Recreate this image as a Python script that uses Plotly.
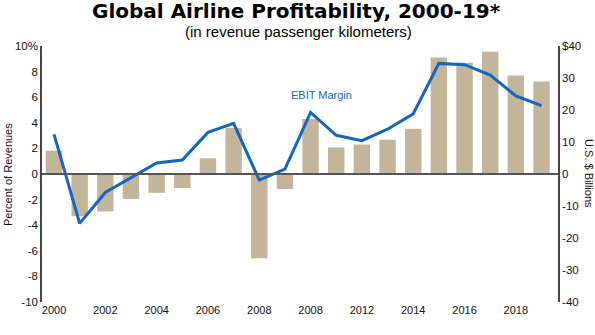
import plotly.graph_objects as go

years = list(range(2000, 2020))
# Net profit, US$ billions (right axis)
profit_bn = [7.3, -13.2, -11.7, -7.8, -5.9, -4.4, 4.9, 14.4, -26.3, -4.7,
             17.2, 8.3, 9.2, 10.7, 14.1, 36.4, 34.8, 38.2, 30.8, 28.9]
# EBIT margin, percent of revenues (left axis)
ebit_margin = [3.1, -3.86, -1.44, -0.3, 0.86, 1.09, 3.25, 3.95, -0.47, 0.39,
               4.81, 3.02, 2.6, 3.5, 4.7, 8.64, 8.54, 7.73, 6.1, 5.34]

x_tickvals = [2000, 2002, 2004, 2006, 2008, 2010, 2012, 2014, 2016, 2018]
x_ticktext = ["2000", "2002", "2004", "2006", "2008", "2008", "2012", "2014", "2016", "2018"]
left_tickvals = [10, 8, 6, 4, 2, 0, -2, -4, -6, -8, -10]
left_ticktext = ["10%", "8", "6", "4", "2", "0", "-2", "-4", "-6", "-8", "-10"]
right_tickvals = [40, 30, 20, 10, 0, -10, -20, -30, -40]
right_ticktext = ["$40", "30", "20", "10", "0", "-10", "-20", "-30", "-40"]

BAR = "#c3b59a"
LINE = "#1464c0"
AXIS = "#444444"
FONT = "Liberation Sans, Arial, sans-serif"

fig = go.Figure()
# Bars on the base (right-hand, dollars) axis; the margin line sits on the
# overlaying percent axis so it is drawn above the bars.
fig.add_trace(go.Bar(x=years, y=profit_bn, yaxis="y", marker_color=BAR,
                     marker_line_width=0, width=0.64, name="Net profit"))
fig.add_trace(go.Scatter(x=years, y=ebit_margin, yaxis="y2", mode="lines",
                         line=dict(color=LINE, width=3), name="EBIT Margin"))

fig.update_layout(
    width=595, height=335,
    margin=dict(l=42, r=37, t=46, b=33),
    paper_bgcolor="white", plot_bgcolor="white",
    showlegend=False,
    font=dict(family=FONT, size=11, color="#111111"),
    xaxis=dict(range=[1999.532, 2019.643], tickvals=x_tickvals, ticktext=x_ticktext,
               showgrid=False, zeroline=False, showline=False, ticks="",
               tickfont=dict(size=11)),
    yaxis=dict(range=[-40, 40], tickvals=right_tickvals, ticktext=right_ticktext,
               side="right", showgrid=False, zeroline=False,
               showline=True, linecolor=AXIS, linewidth=1.5, ticks="",
               tickfont=dict(size=11.5)),
    yaxis2=dict(range=[-10, 10], tickvals=left_tickvals, ticktext=left_ticktext,
                overlaying="y", side="left", showgrid=False, zeroline=False,
                showline=True, linecolor=AXIS, linewidth=1.5, ticks="",
                tickfont=dict(size=11.5)),
    shapes=[dict(type="line", xref="paper", yref="y", x0=0, x1=1, y0=0, y1=0,
                 line=dict(color="#555555", width=2), layer="above")],
    annotations=[
        dict(text="<b>Global Airline Profitability, 2000-19*</b>", xref="paper", yref="paper",
             x=0.494, y=1.135, xanchor="center", yanchor="middle", showarrow=False,
             font=dict(family="DejaVu Sans, sans-serif", size=20, color="#000000")),
        dict(text="(in revenue passenger kilometers)", xref="paper", yref="paper",
             x=0.497, y=1.055, xanchor="center", yanchor="middle", showarrow=False,
             font=dict(size=15, color="#000000")),
        dict(text="Percent of Revenues", xref="paper", yref="paper",
             x=-0.0659, y=0.5, xanchor="center", yanchor="middle", textangle=-90,
             showarrow=False, font=dict(size=11)),
        dict(text="U.S. $ Billions", xref="paper", yref="paper",
             x=1.06, y=0.5, xanchor="center", yanchor="middle", textangle=90,
             showarrow=False, font=dict(size=11)),
        dict(text="EBIT Margin", xref="x", yref="y2", x=2009.15, y=6.17,
             xanchor="left", yanchor="middle", showarrow=False,
             font=dict(size=11, color=LINE)),
    ],
)

fig.write_html("out.html")
